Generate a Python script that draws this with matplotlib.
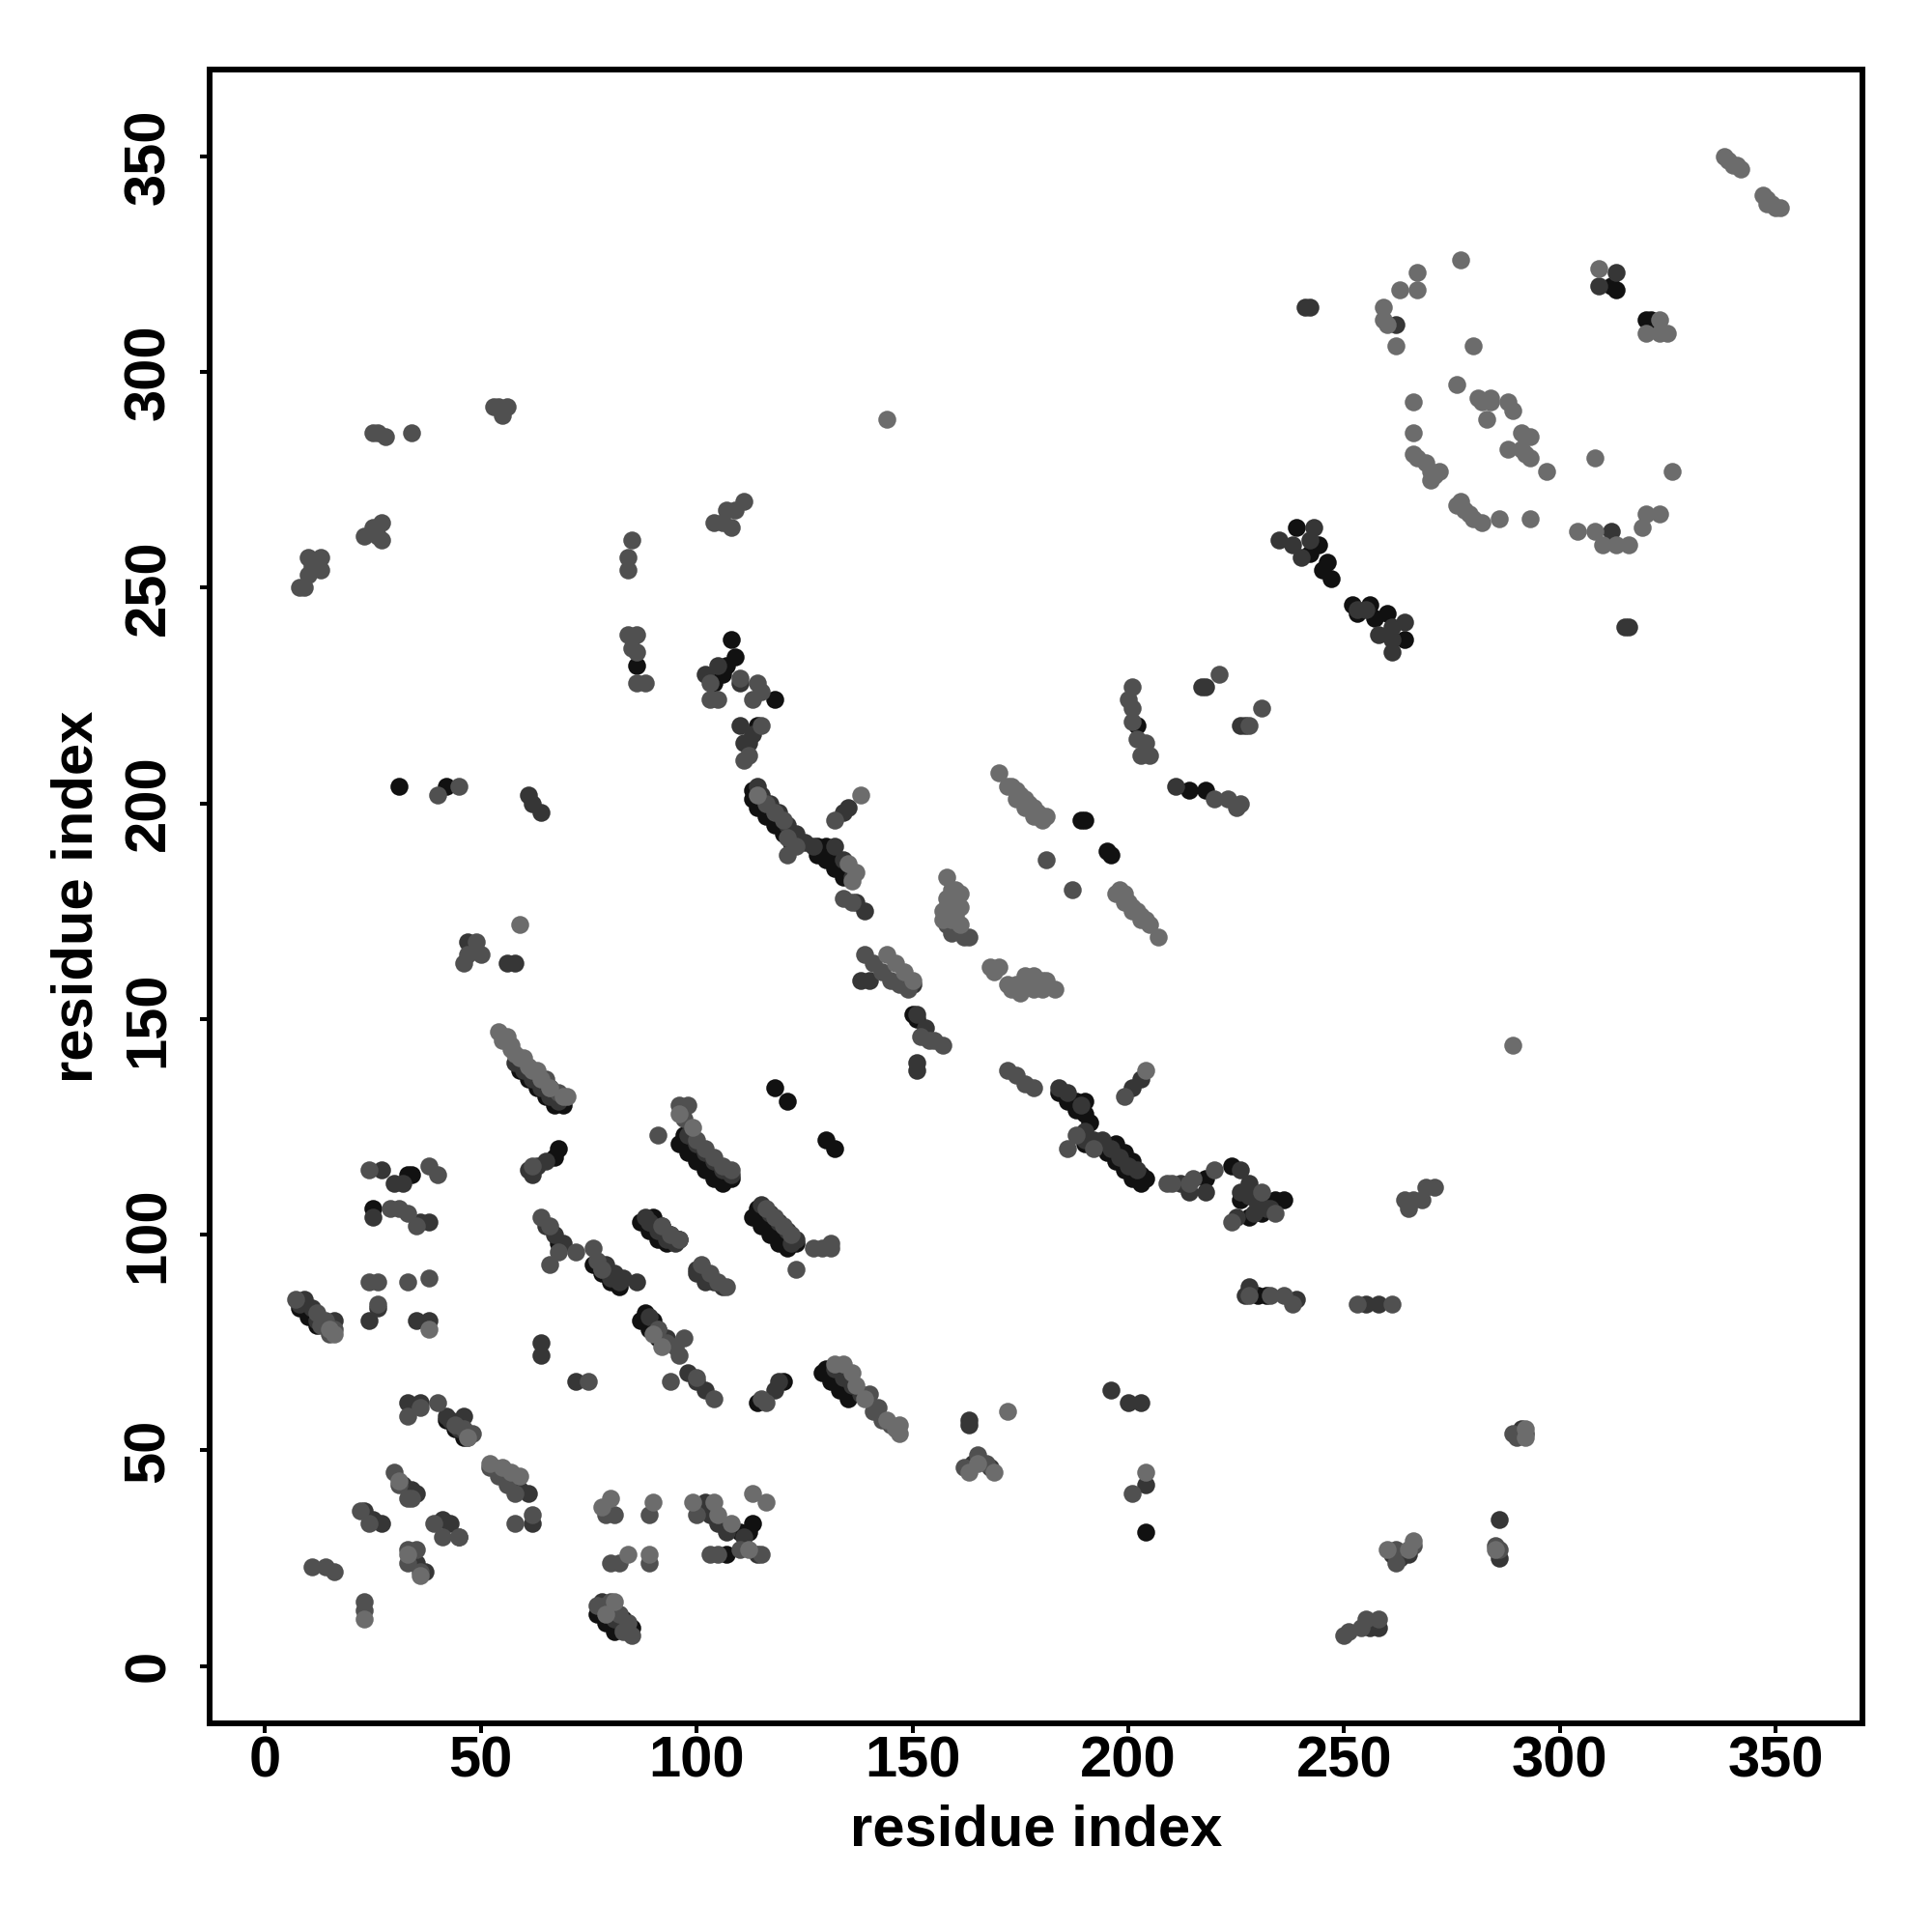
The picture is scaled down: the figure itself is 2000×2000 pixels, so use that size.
import matplotlib
matplotlib.use("Agg")
import matplotlib.pyplot as plt

plt.rcParams['font.family'] = ['Liberation Sans', 'DejaVu Sans']

tick_values = [0, 50, 100, 150, 200, 250, 300, 350]
axis_title = "residue index"

black_pts = [(31,204),(42,204),(312,320),(313,319),(320,312),(321,312),(239,264),(244,260),(245,254),(246,256),(247,252),
 (252,246),(256,246),(257,243),(260,244),(264,238),(108,238),(107,232),(109,234),(104,228),(106,230),(114,218),(118,224),
 (86,232),(189,196),(190,196),(195,189),(196,188),(113,203),(115,201),(117,199),(119,197),(128,190),(130,190),(131,189),
 (133,187),(135,184),(150,151),(151,150),(188,131),(190,128),(191,126),(190,131),
 (197,121),(199,119),(201,117),(203,114),(204,113),(202,218),(218,203),(214,203),(218,113),(224,116),(231,105),(234,108),
 (236,108),(230,86),(232,86),(97,123),(98,122),(100,120),(102,118),(104,116),(106,114),(108,113),
 (114,106),(116,105),(118,103),(120,101),(122,99),(123,98),(130,122),(132,120),(118,134),(121,131),(68,120),(67,118),
 (66,134),(68,132),(69,130),(33,114),(34,114),(25,106),(9,84),(10,83),(11,81),(84,10),(85,9),(83,11),(204,31),
 (113,33),(112,31),(110,31),(107,26),(130,69),(132,67),(134,65),(136,63),(88,82),(90,80),(114,61),(120,66),
 (190,121),(90,104),(92,102),(94,100),(96,99),
 (59,138),(61,136),(63,134),(65,132),(67,130),(113,201),(114,199),(116,197),(118,195),(120,193),(122,191),
 (128,188),(130,187),(132,185),(134,183),(184,133),(186,131),(188,129),(193,121),(195,119),(197,117),(199,115),(201,113),(203,112),
 (96,121),(98,119),(100,117),(102,115),(104,113),(106,112),(113,104),(115,102),(117,100),(119,98),(121,97),(129,68),(131,66),(133,64),(135,62),
 (87,103),(89,101),(91,99),(93,98),(76,93),(78,91),(80,89),(82,88),(87,80),(89,78),(91,76),(8,83),(10,81),(12,79),(77,12),(79,10),(81,8),(42,57),(44,55),(46,53),
 (253,244),(242,258),(226,108),(228,104),(230,108),(68,98)]

dark_pts = [(262,311),(309,320),(313,323),(312,263),(241,315),(242,315),(235,261),(243,264),(264,242),(238,260),(240,257),(242,261),
 (255,245),(253,245),(261,241),(261,238),(258,239),(261,235),(315,241),(316,241),(102,230),(105,232),(110,228),(111,214),(110,218),
 (112,214),(113,216),(61,202),(62,200),(64,198),(47,168),(56,163),(58,163),(122,191),(125,191),(127,190),(136,183),(137,177),(139,175),
 (184,134),(186,133),(189,130),(192,122),(194,122),(196,120),(198,118),(200,116),(202,115),(203,136),(201,134),
 (138,159),(140,159),(151,151),(153,148),(148,158),(150,158),(203,61),(204,42),(151,140),(151,138),(134,198),(135,199),
 (211,204),(212,112),(214,110),(218,110),(225,104),(226,115),(228,112),(229,105),(232,106),(228,88),(227,86),(239,85),
 (255,84),(258,84),(64,75),(64,72),(72,66),(61,115),(62,114),(63,116),(65,117),(65,102),(67,100),(69,98),
 (79,93),(81,91),(83,90),(86,89),(100,92),(102,90),(104,89),(106,88),(25,104),(27,115),(30,112),(32,112),(36,103),(38,103),
 (8,84),(12,80),(14,79),(16,80),(24,80),(26,83),(35,80),(38,80),(43,57),(45,55),(47,53),(42,58),(46,58),(36,61),(33,61),
 (23,36),(25,34),(27,33),(32,42),(34,41),(35,40),(34,26),(35,24),(37,22),(41,34),(43,33),(45,30),(53,46),(55,44),(57,42),(59,41),(61,40),(62,33),
 (82,12),(84,8),(80,14),(78,15),(258,9),(256,9),(263,25),(265,26),(261,26),(286,25),(286,34),(163,56),(163,57),(164,47),(168,46),
 (102,38),(103,35),(105,33),(107,31),(111,30),(114,26),(196,64),(200,61),(291,55),(292,54),(119,66),(118,64),
 (226,218),(227,218),(218,227),(217,227),(88,104),(89,103),(98,68),(100,66),(102,64),(123,99),(122,98),
 (58,140),(60,138),(62,136),(64,134),(66,132),(68,131),(114,204),(115,202),(117,200),(119,198),(121,195),(123,193),(132,190),(134,187),
 (98,123),(100,121),(102,119),(104,117),(106,115),(108,114),(115,107),(117,105),(119,103),(121,101),(132,69),(134,67),(136,65),(138,63),
 (89,103),(91,101),(93,99),(95,98),(78,92),(80,90),(82,89),(89,81),(91,78),(93,76),(100,91),(102,89),(9,85),(11,83),(13,80),(79,13),(81,11),(83,9),
 (190,124),(190,122),(226,110),(228,109),(230,107),(233,106)]

mid_pts = [(9,250),(8,250),(10,253),(11,255),(10,257),(13,254),(13,257),(23,262),(25,264),(26,262),(27,261),(27,265),(25,286),(26,286),(28,285),
 (85,261),(84,257),(84,254),(84,239),(86,239),(85,236),(86,235),(86,228),(88,228),(103,228),(103,224),(105,224),(110,229),(114,228),(115,226),
 (113,224),(115,218),(112,211),(111,210),(40,202),(45,204),(46,163),(47,165),(49,168),(50,165),(123,92),
 (116,200),(118,198),(120,196),(121,188),(123,190),(121,192),(132,196),(134,178),(136,177),
 (181,187),(187,180),(162,169),(163,169),(158,172),(159,170),(139,165),(141,163),(143,161),(145,159),(147,158),(149,157),(152,146),(154,145),
 (155,145),(157,144),(172,138),(174,137),(176,135),(178,134),(186,120),(188,123),(192,120),
 (200,224),(201,222),(201,227),(201,219),(202,215),(204,214),(203,211),(205,211),(221,230),(225,199),(220,201),(223,201),(226,200),
 (228,218),(231,222),(238,84),(236,86),(233,86),(228,86),(224,103),(234,105),(231,110),(220,115),(215,113),(209,112),(210,112),(214,112),
 (264,108),(265,106),(266,108),(268,108),(269,111),(271,111),(253,84),(55,290),(53,292),(54,292),(56,292),(34,286),
 (104,265),(106,265),(107,268),(108,264),(109,268),(111,270),(199,132),
 (65,136),(62,116),(91,123),(97,127),(96,130),(98,130),(75,66),
 (64,104),(66,102),(66,93),(68,96),(72,96),(76,97),(77,94),(78,92),(24,89),(26,89),(26,84),(33,89),(38,90),
 (24,115),(29,106),(31,106),(33,105),(35,102),(38,116),(40,114),(7,85),(13,79),(15,77),(16,78),
 (91,78),(93,75),(95,74),(97,76),(96,72),(94,66),(100,67),(104,62),(115,62),(116,61),(140,63),(142,60),
 (141,59),(143,57),(145,56),(33,58),(36,60),(40,61),(44,56),(46,55),(48,54),(30,45),(31,42),(33,39),(34,39),
 (22,36),(24,33),(23,15),(23,13),(11,23),(14,23),(16,22),(33,27),(35,27),(33,24),(36,22),(39,33),(41,30),(45,30),(52,46),(54,44),(56,42),(58,40),(58,33),
 (62,35),(79,35),(81,35),(89,35),(80,24),(82,24),(89,24),(77,14),(79,14),(81,13),(83,8),(85,7),
 (100,35),(103,26),(105,26),(110,27),(115,26),(162,46),(165,49),(167,47),(201,40),
 (251,8),(250,7),(254,9),(255,11),(258,11),(262,27),(262,24),(266,28),(285,28),(286,27),(289,54),(261,84),
 (66,134),(68,133),(100,122),(102,120),(104,118),(106,116),(108,115),(116,106),(118,104),(120,102),(122,100),(129,97),(131,97),(131,98),(127,97),
 (92,102),(94,100),(96,99),(101,93),(103,91),(105,89),(107,88),(12,82),(14,80),(80,15),(82,12),(84,10),(290,53)]

light_pts = [(338,350),(339,349),(340,348),(342,347),(341,348),(347,341),(348,340),(349,339),(350,338),(351,338),(348,339),
 (277,326),(267,323),(263,319),(267,319),(259,315),(259,312),(260,311),(262,306),(280,306),(309,324),(323,312),(320,309),(323,309),(325,309),
 (276,297),(266,293),(281,294),(282,293),(284,293),(283,289),(284,294),(288,293),(289,291),(266,286),(291,286),(293,285),(288,282),(291,282),(292,281),(293,280),
 (297,277),(266,281),(267,280),(269,279),(270,277),(271,276),(270,275),(272,277),(308,280),(326,277),(276,269),(277,270),(278,268),(279,267),(280,266),(282,265),
 (286,266),(293,266),(304,263),(308,263),(310,260),(313,260),(316,260),(319,264),(320,267),(323,267),
 (170,207),(172,204),(173,204),(174,203),(175,202),(176,201),(177,200),(178,199),(179,198),(180,197),(181,197),(174,201),(176,199),(178,197),(180,196),
 (158,183),(159,180),(160,178),(161,176),(158,176),(157,175),(157,173),(160,174),(159,178),(161,172),(158,178),(160,180),(161,179),(159,173),
 (168,162),(169,161),(170,162),(172,158),(173,157),(175,156),(177,158),(176,160),(178,160),(180,157),(181,159),(183,157),(174,158),(178,157),(180,159),
 (197,179),(198,180),(199,179),(200,177),(201,176),(202,175),(203,174),(204,173),(205,172),(199,177),(201,175),(203,173),(207,169),
 (54,147),(55,145),(56,146),(57,144),(57,143),(58,142),(59,141),(60,141),(61,139),(62,138),(63,138),(64,136),(66,134),(69,132),(70,132),(292,285),(96,128),(99,125),(144,165),(146,163),(148,161),(150,159),
 (137,65),(139,62),(144,57),(146,55),(147,56),(147,54),(92,74),(90,77),(55,46),(57,45),(59,44),(47,53),(31,43),(33,26),(36,21),(52,47),(79,12),(81,15),(16,77),(15,78),(38,78),
 (260,27),(265,27),(266,29),(285,27),(292,55),(292,53),(169,45),(165,47),(163,45),(112,27),(108,33),(105,35),(78,37),(80,39),(90,38),(84,26),(89,26),(99,38),(104,38),(113,40),(116,38),(23,11),(172,59),(204,45),
 (204,138),(138,202),(289,144),(144,289),(59,172),(114,202),(135,186),(137,184),(136,182),(132,70),(134,70),(136,68)]

def split(pts):
    return [p[0] for p in pts], [p[1] for p in pts]

fig = plt.figure(figsize=(20, 20), dpi=100)
ax = fig.add_axes([216.7/2000, 1 - 1783.7/2000, 1711.3/2000, 1711.7/2000])

for pts, grey in [(black_pts, '#111111'), (dark_pts, '#363636'), (mid_pts, '#505050'), (light_pts, '#6c6c6c')]:
    xs, ys = split(pts)
    ax.scatter(xs, ys, s=178, c=grey, linewidths=0, zorder=3)

ax.set_xlim(-12.9, 370.1)
ax.set_ylim(-13.2, 370.1)
ax.set_xticks(tick_values)
ax.set_yticks(tick_values)
ax.tick_params(axis='both', length=7.5, width=2.9, labelsize=43)
ax.tick_params(axis='x', pad=2)
ax.tick_params(axis='y', pad=17.5)
for label in ax.get_xticklabels():
    label.set_fontweight('bold')
for label in ax.get_yticklabels():
    label.set_fontweight('bold')
    label.set_rotation(90)
    label.set_va('center')
for spine in ax.spines.values():
    spine.set_linewidth(4.3)
ax.set_xlabel(axis_title, fontsize=43, fontweight='bold', labelpad=11.4)
ax.set_ylabel(axis_title, fontsize=43, fontweight='bold', labelpad=13.8)
fig.savefig('out.png', dpi=100, facecolor='white')
